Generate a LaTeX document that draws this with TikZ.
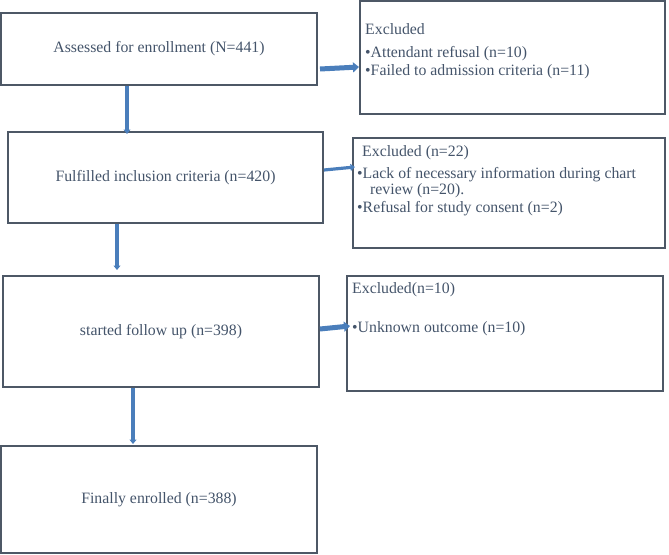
\documentclass[tikz,border=0pt]{standalone}
\usepackage{fontspec}
\setmainfont{Liberation Serif}
\usetikzlibrary{arrows.meta,calc}
\definecolor{txt}{HTML}{44546A}
\definecolor{edge}{HTML}{4D5866}
\definecolor{arr}{HTML}{4A7EBB}
\begin{document}
\begin{tikzpicture}[x=1pt,y=-1pt, font=\fontsize{15.8}{18}\selectfont, text=txt,
  box/.style={draw=edge, line width=1.3pt, rectangle, inner sep=0pt, outer sep=0pt, anchor=north west},
  lbl/.style={anchor=west, inner sep=0pt, text height=11pt, text depth=3.5pt},
  varrow/.style={draw=arr, line width=3.2pt, -{Triangle[width=7pt,length=4.5pt]}},
  harrow/.style={draw=arr, line width=5pt, -{Triangle[width=10pt,length=6pt]}},
  tarrow/.style={draw=arr, line width=3.2pt, -{Triangle[width=7pt,length=4.5pt]}}]
\useasboundingbox (0,0) rectangle (669,554);
% main column
\node[box, minimum width=316pt, minimum height=72pt] (A) at (1,13) {Assessed for enrollment (N=441)};
\node[box, minimum width=315pt, minimum height=91pt] (B) at (8,132) {Fulfilled inclusion criteria (n=420)};
\node[box, minimum width=316pt, minimum height=111pt] (C) at (3,276) {started follow up (n=398)};
\node[box, minimum width=316pt, minimum height=107pt] (D) at (1,446) {Finally enrolled (n=388)};
% exclusion boxes
\node[box, minimum width=305pt, minimum height=113pt] (E1) at (360,1) {};
\node[box, minimum width=312pt, minimum height=110pt] (E2) at (353,138) {};
\node[box, minimum width=316pt, minimum height=115pt] (E3) at (347,276) {};
% exclusion texts
\node[lbl] (e1a) at (365,31) {Excluded};
\node[lbl] (e1b) at (365,54) {•Attendant refusal (n=10)};
\node[lbl] (e1c) at (365,72) {•Failed to admission criteria (n=11)};
\node[lbl] (e2a) at (362,153) {Excluded (n=22)};
\node[lbl] (e2b) at (357,175) {•Lack of necessary information during chart};
\node[lbl] (e2c) at (370,191) {review (n=20).};
\node[lbl] (e2d) at (357,209) {•Refusal for study consent (n=2)};
\node[lbl] (e3a) at (352,290) {Excluded(n=10)};
\node[lbl] (e3b) at (352,329) {•Unknown outcome (n=10)};
% arrows down
\draw[varrow] ($(A.south west)+(126,1)$) -- ($(B.north west)+(119,2)$);
\draw[varrow] ($(B.south west)+(109,1)$) -- ($(C.north west)+(114,-6)$);
\draw[varrow] ($(C.south west)+(130,1)$) -- ($(D.north west)+(132,-2)$);
% arrows right
\draw[harrow] ($(A.east)+(3,20)$) -- ($(E1.west)+(-1,9.5)$);
\draw[tarrow] ($(B.east)+(1,-7.5)$) -- ($(E2.west)+(2,-26)$);
\draw[harrow] ($(C.east)+(1,-2.5)$) -- ($(E3.west)+(3,-7.5)$);
\end{tikzpicture}
\end{document}
